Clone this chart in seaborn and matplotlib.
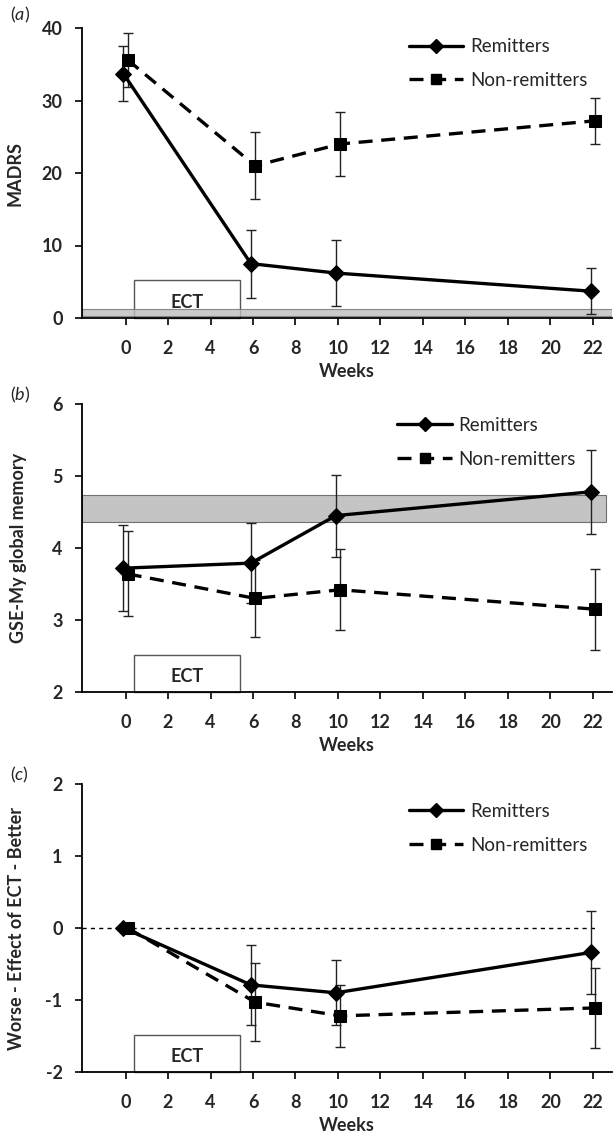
import numpy as np
import pandas as pd
import matplotlib
matplotlib.use("Agg")
import matplotlib.pyplot as plt
import seaborn as sns
from matplotlib.patches import Rectangle
from matplotlib.lines import Line2D

# ---------------- data ----------------
weeks = [0, 6, 10, 22]
groups = ["Remitters", "Non-remitters"]
xticks = list(range(0, 23, 2))

madrs_rem = [33.7, 7.5, 6.2, 3.7]
madrs_rem_err = [3.8, 4.7, 4.5, 3.2]
madrs_non = [35.6, 21.0, 24.0, 27.2]
madrs_non_err = [3.7, 4.6, 4.35, 3.15]

gse_rem = [3.72, 3.79, 4.45, 4.78]
gse_rem_err = [0.60, 0.56, 0.57, 0.58]
gse_non = [3.64, 3.30, 3.42, 3.15]
gse_non_err = [0.59, 0.53, 0.56, 0.56]

eff_rem = [0.0, -0.79, -0.90, -0.34]
eff_rem_err = [0.0, 0.555, 0.45, 0.575]
eff_non = [0.0, -1.03, -1.22, -1.11]
eff_non_err = [0.0, 0.54, 0.43, 0.56]

madrs_norm = (0.3, 1.3)
gse_norm = (4.36, 4.73)
ect_period = (0.4, 5.4)

ylabels = ["MADRS", "GSE-My global memory", "Worse - Effect of ECT - Better"]
panel_tags = ["a", "b", "c"]
ylims = [(0, 40), (2, 6), (-2, 2)]
yticks = [[0, 10, 20, 30, 40], [2, 3, 4, 5, 6], [-2, -1, 0, 1, 2]]

# ---------------- style ----------------
sns.set_theme(style="ticks")
plt.rcParams["font.family"] = ["Lato", "DejaVu Sans"]
plt.rcParams["axes.unicode_minus"] = False
plt.rcParams["mathtext.fontset"] = "custom"
plt.rcParams["mathtext.it"] = "Lato:italic"
plt.rcParams["mathtext.rm"] = "Lato"

fig = plt.figure(figsize=(6.14, 11.35), dpi=100)

left = 82 / 614
width = 530 / 614
rects = [
    (left, 1 - 318 / 1135, width, 290 / 1135),
    (left, 1 - 692 / 1135, width, 288 / 1135),
    (left, 1 - 1072 / 1135, width, 288 / 1135),
]
tag_y = [15, 395, 775]
ylab_x = [-0.111, -0.104, -0.108]
legend_anchor = [(0.617, 0.965), (0.595, 0.955), (0.617, 0.935)]

panels = [
    (madrs_rem, madrs_rem_err, madrs_non, madrs_non_err),
    (gse_rem, gse_rem_err, gse_non, gse_non_err),
    (eff_rem, eff_rem_err, eff_non, eff_non_err),
]
offsets = {"Remitters": -0.1, "Non-remitters": 0.1}
markers = {"Remitters": "D", "Non-remitters": "s"}
dash_pat = (4.2, 2.6)
dashes = {"Remitters": "", "Non-remitters": dash_pat}
palette = {"Remitters": "black", "Non-remitters": "black"}

for i, (rem, rem_e, non, non_e) in enumerate(panels):
    ax = fig.add_axes(rects[i])
    df = pd.DataFrame({
        "week": weeks * 2,
        "value": rem + non,
        "err": rem_e + non_e,
        "group": [groups[0]] * len(weeks) + [groups[1]] * len(weeks),
    })
    df["x"] = df["week"] + df["group"].map(offsets)

    y0, y1 = ylims[i]
    yr = y1 - y0

    # ECT box
    ax.add_patch(Rectangle((ect_period[0], y0), ect_period[1] - ect_period[0], 0.13 * yr,
                           facecolor="white", edgecolor="#555555", lw=1.0, zorder=1,
                           clip_on=False))
    ax.text((ect_period[0] + ect_period[1]) / 2, y0 + 0.055 * yr, "ECT",
            ha="center", va="center", fontsize=13, fontweight="bold", zorder=1.5)

    # normative bands
    if i == 0:
        ax.add_patch(Rectangle((-2.05, madrs_norm[0]), 25, madrs_norm[1] - madrs_norm[0],
                               facecolor="#bdbdbd", edgecolor="#707070", lw=0.8,
                               alpha=0.8, zorder=1.8))
    if i == 1:
        ax.add_patch(Rectangle((-2.05, gse_norm[0]), 24.65, gse_norm[1] - gse_norm[0],
                               facecolor="#c4c4c4", edgecolor="#707070", lw=0.8, zorder=1.2))
    if i == 2:
        ax.plot([-2.05, 22.1], [0, 0], ls=(0, (3, 3)), color="black", lw=1.0, zorder=1.2)

    # error bars
    for g in groups:
        sub = df[(df["group"] == g) & (df["err"] > 0)]
        ax.errorbar(sub["x"], sub["value"], yerr=sub["err"], fmt="none",
                    ecolor="#222222", elinewidth=1.0, capsize=3.5, capthick=1.0, zorder=2)

    sns.lineplot(data=df, x="x", y="value", hue="group", style="group",
                 markers=markers, dashes=dashes, palette=palette,
                 linewidth=2.4, markersize=8, markeredgecolor="black",
                 legend=False, ax=ax, zorder=3, sort=True)

    ax.set_xlim(-2.05, 22.9)
    ax.set_ylim(y0, y1)
    ax.set_xticks(xticks)
    ax.set_yticks(yticks[i])
    ax.tick_params(axis="both", labelsize=13, length=5, width=1.2, color="black")
    ax.tick_params(axis="x", pad=11)
    ax.tick_params(axis="y", pad=9)
    for lab in ax.get_xticklabels() + ax.get_yticklabels():
        lab.set_fontweight("bold")
    sns.despine(ax=ax)
    for s in ["left", "bottom"]:
        ax.spines[s].set_linewidth(1.3)
        ax.spines[s].set_color("black")
    ax.set_xlabel("Weeks", fontsize=13, fontweight="bold", labelpad=4)
    ax.set_ylabel(ylabels[i], fontsize=13, fontweight="bold")
    ax.yaxis.set_label_coords(ylab_x[i], 0.5)

    handles = [
        Line2D([], [], color="black", lw=2.4, marker="D", markersize=7.5),
        Line2D([], [], color="black", lw=2.4, ls=(0, dash_pat), marker="s", markersize=7.5),
    ]
    ax.legend(handles, groups, loc="upper left", bbox_to_anchor=legend_anchor[i],
              frameon=False, fontsize=13.5, handlelength=2.9, handletextpad=0.35,
              labelspacing=0.9, borderpad=0, borderaxespad=0)

    fig.text(10 / 614, 1 - tag_y[i] / 1135, "($\\it{%s}$)" % panel_tags[i],
             fontsize=13, ha="left", va="center")

fig.savefig("out.png", dpi=100)
